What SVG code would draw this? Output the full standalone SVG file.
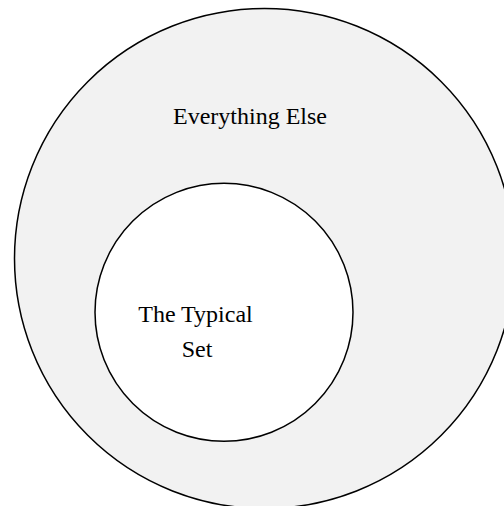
<svg xmlns="http://www.w3.org/2000/svg" width="504" height="506" viewBox="0 0 504 506">
<style>
.c{stroke:#000;stroke-width:1.5}
.t{font-family:"Liberation Serif","Times New Roman",serif;font-size:24px;fill:#000;text-anchor:middle}
</style>
<rect width="504" height="506" fill="#fff"/>
<g id="everything-else">
<circle class="c" cx="264.5" cy="258.5" r="250" fill="#f2f2f2"/>
<text class="t" x="250" y="124">Everything Else</text>
</g>
<g id="typical-set">
<circle class="c" cx="224" cy="312.3" r="129" fill="#fff"/>
<text class="t" x="195.5" y="321.7">The Typical</text>
<text class="t" x="197" y="356.7">Set</text>
</g>
<g id="connectors"/>
</svg>
